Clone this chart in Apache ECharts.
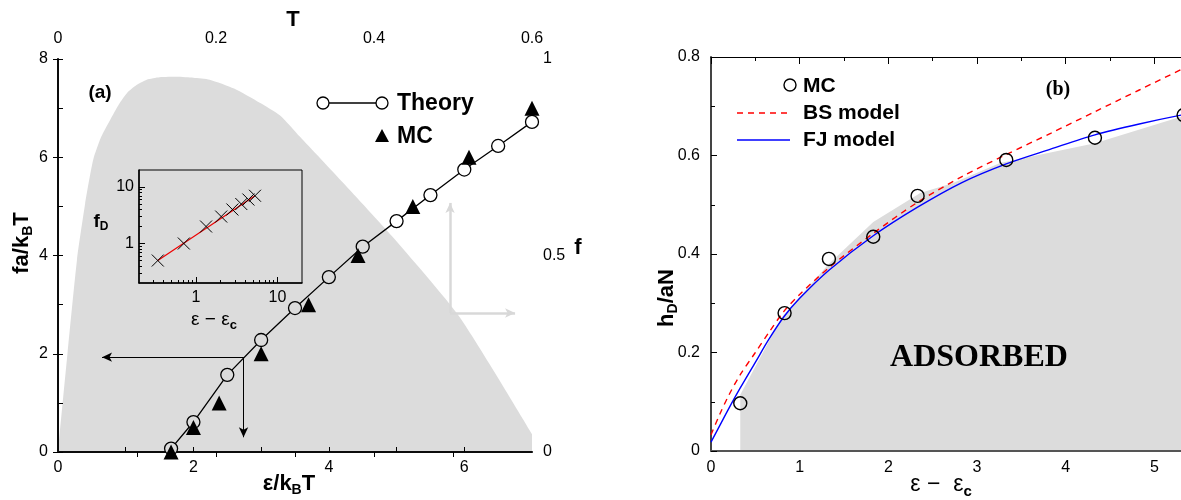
<!DOCTYPE html>
<html><head><meta charset="utf-8">
<script src="https://cdn.jsdelivr.net/npm/echarts@6/dist/echarts.min.js"></script>
<style>html,body{margin:0;padding:0;background:#fff}#c{width:1181px;height:500px}</style>
</head><body><div id="c"></div>
<script>
// ---------- Panel (a) ----------
const epsTheory = [1.67, 2.0, 2.5, 3.0, 3.5, 4.0, 4.5, 5.0, 5.5, 6.0, 6.5, 7.0];
const faTheory  = [0.07, 0.61, 1.57, 2.28, 2.93, 3.56, 4.18, 4.70, 5.23, 5.75, 6.23, 6.72];
const epsMC = [1.67, 2.0, 2.38, 3.0, 3.7, 4.43, 5.24, 6.07, 7.0];
const faMC  = [0.0, 0.5, 1.0, 2.0, 3.0, 4.0, 5.0, 6.0, 7.0];
const greyAX = [0, 0.14, 0.28, 0.40, 0.52, 0.64, 0.77, 0.90, 1.02, 1.16, 1.31, 1.50, 1.76, 2.0, 2.24, 2.60, 2.98, 3.28, 3.57, 4.21, 4.94, 5.93, 7.0];
const greyAY = [0, 2.0, 3.91, 5.05, 5.95, 6.42, 6.76, 7.08, 7.31, 7.47, 7.58, 7.63, 7.64, 7.62, 7.58, 7.40, 7.11, 6.85, 6.42, 5.48, 4.38, 2.75, 0.37];
const arrowH = [[2.74, 1.93], [0.65, 1.93]];
const arrowV = [[2.74, 1.93], [2.74, 0.30]];
const greyArrowUp = [[5.79, 2.83], [5.79, 5.07]];
const greyArrowRight = [[5.79, 2.83], [6.75, 2.83]];
const bottomLabelsA = [0, 2, 4, 6];
const bottomTicksA = [1, 2, 3, 4, 5, 6];
const topLabelsA = [0, 0.2, 0.4, 0.6];
const topTicksA = [0.1, 0.2, 0.3, 0.4, 0.5];
// inset
const dEpsInset = [0.34, 0.71, 1.33, 2.04, 2.8, 3.6, 4.4, 5.3];
const fDInset   = [0.5, 1, 2, 3, 4, 5, 6, 7];
const fitX = [0.34, 5.3];
const fitY = [0.5, 7.0];
const insetMajor = [1, 10];
const insetMinor = [0.3, 0.4, 0.5, 0.6, 0.7, 0.8, 0.9, 2, 3, 4, 5, 6, 7, 8, 9];
// ---------- Panel (b) ----------
const dEpsMC = [0.33, 0.83, 1.33, 1.83, 2.33, 3.33, 4.33, 5.33];
const hMC    = [0.097, 0.28, 0.39, 0.435, 0.518, 0.591, 0.636, 0.682];
const modelX = [0, 0.1, 0.2, 0.33, 0.5, 0.65, 0.82, 1.0, 1.33, 1.83, 2.33, 2.83, 3.33, 3.83, 4.33, 4.83, 5.33, 6.0];
const bsY    = [0.033, 0.075, 0.113, 0.155, 0.2, 0.24, 0.283, 0.318, 0.372, 0.442, 0.505, 0.557, 0.602, 0.645, 0.689, 0.733, 0.777, 0.836];
const fjY    = [0.018, 0.052, 0.086, 0.128, 0.18, 0.226, 0.272, 0.31, 0.367, 0.437, 0.495, 0.545, 0.583, 0.613, 0.642, 0.664, 0.683, 0.705];
const greyBX = [0.33, 0.80, 1.32, 1.83, 2.36, 2.73, 3.26, 4.33, 5.29, 6.0];
const greyBY = [0.114, 0.272, 0.378, 0.465, 0.524, 0.544, 0.585, 0.625, 0.678, 0.70];
const bottomLabelsB = [0, 1, 2, 3, 4, 5];

const zip = (a, b) => a.map((v, i) => [v, b[i]]);
function greyAt(x) {
  for (let i = 0; i < greyAX.length - 1; i++) {
    if (x >= greyAX[i] && x <= greyAX[i + 1]) {
      const t = (x - greyAX[i]) / (greyAX[i + 1] - greyAX[i]);
      return greyAY[i] + t * (greyAY[i + 1] - greyAY[i]);
    }
  }
  return 0;
}
const GREY = '#dcdcdc';
const FONT = '"Liberation Sans", Arial, sans-serif';
const SERIF = '"Liberation Serif", "Times New Roman", serif';
const lab = (extra) => Object.assign({color: '#000', fontSize: 16, fontFamily: FONT}, extra || {});
const axLine = (c, w) => ({show: true, lineStyle: {color: c || '#222', width: w || 1.5}});

function rt(parts, size, sub, bold, fam) {
  return {
    m: {fontSize: size, fontWeight: bold ? 'bold' : 'normal', fontFamily: fam || FONT, lineHeight: size, fill: '#000'},
    s: {fontSize: sub, fontWeight: 'bold', fontFamily: fam || FONT, lineHeight: sub, padding: [Math.round(size * 0.55), 0, 0, 0], fill: '#000'}
  };
}
function txt(x, y, text, rich, rot, align) {
  return {type: 'text', x: x, y: y, rotation: rot || 0, z: 100,
    style: {text: text, rich: rich, align: align || 'center', verticalAlign: 'middle'}};
}
function plain(x, y, text, font, align) {
  return {type: 'text', x: x, y: y, z: 100,
    style: {text: text, font: font, fill: '#000', align: align || 'left', verticalAlign: 'middle'}};
}

const chart = echarts.init(document.getElementById('c'), null, {renderer: 'canvas'});
const option = {
  animation: false,
  backgroundColor: '#fff',
  textStyle: {fontFamily: FONT},
  grid: [
    {left: 58, top: 59, width: 474, height: 393, outerBoundsMode: 'none'},
    {left: 711, top: 57, width: 532, height: 394, outerBoundsMode: 'none'},
    {left: 139, top: 170, width: 163, height: 113, outerBoundsMode: 'none', show: true, borderColor: '#000', borderWidth: 1, backgroundColor: 'transparent', z: 6}
  ],
  xAxis: [
    {gridIndex: 0, type: 'value', position: 'bottom', min: 0, max: 7, interval: 1, z: 6,
     axisLine: axLine('#333', 2), splitLine: {show: false},
     axisTick: {show: true, inside: true, length: 5, customValues: bottomTicksA, lineStyle: {color: '#000'}},
     axisLabel: lab({margin: 8, customValues: bottomLabelsA})},
    {gridIndex: 0, type: 'value', position: 'top', min: 0, max: 0.6, interval: 0.1, z: 6,
     axisLine: axLine('#000', 1.5), splitLine: {show: false},
     axisTick: {show: true, inside: true, length: 5, customValues: topTicksA, lineStyle: {color: '#000'}},
     axisLabel: lab({margin: 12, customValues: topLabelsA})},
    {gridIndex: 1, type: 'value', position: 'bottom', min: 0, max: 6, interval: 1, z: 6,
     axisLine: axLine('#555', 2), splitLine: {show: false}, axisTick: {show: false},
     axisLabel: lab({margin: 9, customValues: bottomLabelsB})},
    {gridIndex: 1, type: 'value', position: 'top', min: 0, max: 6, interval: 1, z: 6,
     axisLine: axLine('#000', 1.2), splitLine: {show: false},
     axisTick: {show: true, inside: true, length: 7, lineStyle: {color: '#000'}},
     minorTick: {show: true, splitNumber: 2, length: 4, lineStyle: {color: '#000'}},
     axisLabel: {show: false}},
    {gridIndex: 2, type: 'log', position: 'bottom', min: 0.2, max: 20, z: 7,
     axisLine: axLine('#000', 1.5), splitLine: {show: false},
     axisTick: {show: true, inside: true, length: 6, customValues: insetMajor, lineStyle: {color: '#000'}},
     axisLabel: lab({margin: 7, customValues: insetMajor})},
    {gridIndex: 2, type: 'log', position: 'bottom', min: 0.2, max: 20, z: 7,
     axisLine: {show: false}, splitLine: {show: false},
     axisTick: {show: true, inside: true, length: 3, customValues: insetMinor, lineStyle: {color: '#000'}},
     axisLabel: {show: false}}
  ],
  yAxis: [
    {gridIndex: 0, type: 'value', position: 'left', min: 0, max: 8, interval: 2, z: 6,
     axisLine: axLine('#333', 2), splitLine: {show: false},
     axisTick: {show: true, inside: true, length: 5, lineStyle: {color: '#000'}},
     minorTick: {show: true, splitNumber: 2, length: 5, lineStyle: {color: '#000'}},
     axisLabel: lab({margin: 10})},
    {gridIndex: 0, type: 'value', position: 'right', min: 0, max: 1, interval: 0.5, z: 6,
     axisLine: axLine('#000', 1.5), splitLine: {show: false},
     axisTick: {show: true, inside: true, length: 5, lineStyle: {color: '#000'}},
     minorTick: {show: true, splitNumber: 2, length: 5, lineStyle: {color: '#000'}},
     axisLabel: lab({margin: 11})},
    {gridIndex: 1, type: 'value', position: 'left', min: 0, max: 0.8, interval: 0.2, z: 6,
     axisLine: axLine('#444', 2), splitLine: {show: false},
     axisTick: {show: true, inside: true, length: 6, lineStyle: {color: '#000'}},
     minorTick: {show: true, splitNumber: 2, length: 4, lineStyle: {color: '#000'}},
     axisLabel: lab({margin: 11})},
    {gridIndex: 2, type: 'log', position: 'left', min: 0.2, max: 20, z: 7,
     axisLine: axLine('#000', 1.5), splitLine: {show: false},
     axisTick: {show: true, inside: true, length: 6, customValues: insetMajor, lineStyle: {color: '#000'}},
     axisLabel: lab({margin: 5, customValues: insetMajor})},
    {gridIndex: 2, type: 'log', position: 'left', min: 0.2, max: 20, z: 7,
     axisLine: {show: false}, splitLine: {show: false},
     axisTick: {show: true, inside: true, length: 3, customValues: insetMinor, lineStyle: {color: '#000'}},
     axisLabel: {show: false}}
  ],
  series: [
    {type: 'line', name: 'greyA', xAxisIndex: 0, yAxisIndex: 0, data: zip(greyAX, greyAY),
     smooth: 0.2, showSymbol: false, symbol: 'none', silent: true, z: 1,
     lineStyle: {width: 0, color: GREY}, areaStyle: {color: GREY, opacity: 1}},
    {type: 'line', name: 'Theory', xAxisIndex: 0, yAxisIndex: 0, data: zip(epsTheory, faTheory),
     symbol: 'circle', symbolSize: 13, z: 8, silent: true,
     lineStyle: {color: '#000', width: 1.3},
     itemStyle: {color: (p) => (p.value[1] < greyAt(p.value[0]) ? GREY : '#fff'), borderColor: '#000', borderWidth: 1.3, opacity: 1},
     markLine: {silent: true, symbol: ['none', 'arrow'], symbolSize: [7, 10], label: {show: false},
       lineStyle: {color: '#000', width: 1, type: 'solid'},
       data: [
         [{coord: arrowH[0]}, {coord: arrowH[1]}],
         [{coord: arrowV[0]}, {coord: arrowV[1]}],
         [{coord: greyArrowUp[0], lineStyle: {color: '#d8d8d8', width: 2.5}}, {coord: greyArrowUp[1]}],
         [{coord: greyArrowRight[0], lineStyle: {color: '#d8d8d8', width: 2.5}}, {coord: greyArrowRight[1]}]
       ]}},
    {type: 'scatter', name: 'MC', xAxisIndex: 0, yAxisIndex: 0, data: zip(epsMC, faMC),
     symbol: 'triangle', symbolSize: 15, z: 9, silent: true, itemStyle: {color: '#000', opacity: 1}},
    {type: 'line', name: 'fit', xAxisIndex: 4, yAxisIndex: 3, data: zip(fitX, fitY),
     symbol: 'none', z: 8, silent: true, lineStyle: {color: '#e00', width: 1.2}},
    {type: 'scatter', name: 'fD', xAxisIndex: 4, yAxisIndex: 3, data: zip(dEpsInset, fDInset),
     symbol: 'path://M0,0L10,10M10,0L0,10', symbolSize: 12, z: 9, silent: true,
     itemStyle: {color: 'rgba(0,0,0,0)', borderColor: '#000', borderWidth: 1, opacity: 1}},
    {type: 'line', name: 'greyB', xAxisIndex: 2, yAxisIndex: 2, data: zip(greyBX, greyBY),
     symbol: 'none', silent: true, z: 1,
     lineStyle: {width: 0, color: GREY}, areaStyle: {color: GREY, opacity: 1}},
    {type: 'line', name: 'BS model', xAxisIndex: 2, yAxisIndex: 2, data: zip(modelX, bsY),
     symbol: 'none', smooth: 0.3, silent: true, z: 7,
     lineStyle: {color: '#f00', width: 1.4, type: [6, 5]}},
    {type: 'line', name: 'FJ model', xAxisIndex: 2, yAxisIndex: 2, data: zip(modelX, fjY),
     symbol: 'none', smooth: 0.3, silent: true, z: 7,
     lineStyle: {color: '#00f', width: 1.4}},
    {type: 'scatter', name: 'MC b', xAxisIndex: 2, yAxisIndex: 2, data: zip(dEpsMC, hMC),
     symbol: 'circle', symbolSize: 13, silent: true, z: 9,
     itemStyle: {color: 'rgba(0,0,0,0)', borderColor: '#000', borderWidth: 1.4, opacity: 1}}
  ],
  graphic: [
    plain(293, 20, 'T', 'bold 22px ' + FONT, 'center'),
    plain(578, 248, 'f', 'bold 22px ' + FONT, 'center'),
    txt(22, 243, '{m|fa/k}{s|B}{m|T}', rt(null, 22, 14, true), Math.PI / 2),
    txt(289, 484, '{m|ε/k}{s|B}{m|T}', rt(null, 22, 14, true)),
    plain(100, 93, '(a)', 'bold 19px ' + FONT, 'center'),
    txt(101, 222, '{m|f}{s|D}', rt(null, 19, 12, true), 0),
    txt(214, 320, '{m|ε − ε}{s|c}', rt(null, 19, 13, false)),
    {type: 'line', shape: {x1: 323, y1: 103, x2: 382, y2: 103}, style: {stroke: '#000', lineWidth: 1.3}, z: 100},
    {type: 'circle', shape: {cx: 323, cy: 103, r: 6}, style: {fill: '#fff', stroke: '#000', lineWidth: 1.3}, z: 101},
    {type: 'circle', shape: {cx: 382, cy: 103, r: 6}, style: {fill: '#fff', stroke: '#000', lineWidth: 1.3}, z: 101},
    plain(397, 104, 'Theory', 'bold 23px ' + FONT),
    {type: 'polygon', shape: {points: [[375, 142], [389, 142], [382, 129]]}, style: {fill: '#000'}, z: 101},
    plain(397, 137, 'MC', 'bold 23px ' + FONT),
    txt(667, 298, '{m|h}{s|D}{m|/aN}', rt(null, 22, 14, true), Math.PI / 2),
    txt(941, 485, '{m|ε −  ε}{s|c}', rt(null, 23, 15, false)),
    plain(979, 358, 'ADSORBED', 'bold 32px ' + SERIF, 'center'),
    plain(1058, 90, '(b)', 'bold 20px ' + SERIF, 'center'),
    {type: 'circle', shape: {cx: 790, cy: 85, r: 6}, style: {fill: 'rgba(0,0,0,0)', stroke: '#000', lineWidth: 1.4}, z: 101},
    plain(803, 86, 'MC', 'bold 21px ' + FONT),
    {type: 'line', shape: {x1: 737, y1: 113, x2: 789, y2: 113}, style: {stroke: '#f00', lineWidth: 1.4, lineDash: [6, 5]}, z: 100},
    plain(803, 113, 'BS model', 'bold 21px ' + FONT),
    {type: 'line', shape: {x1: 737, y1: 140, x2: 790, y2: 140}, style: {stroke: '#00f', lineWidth: 1.4}, z: 100},
    plain(803, 140, 'FJ model', 'bold 21px ' + FONT)
  ]
};
chart.setOption(option);
</script>
</body></html>
